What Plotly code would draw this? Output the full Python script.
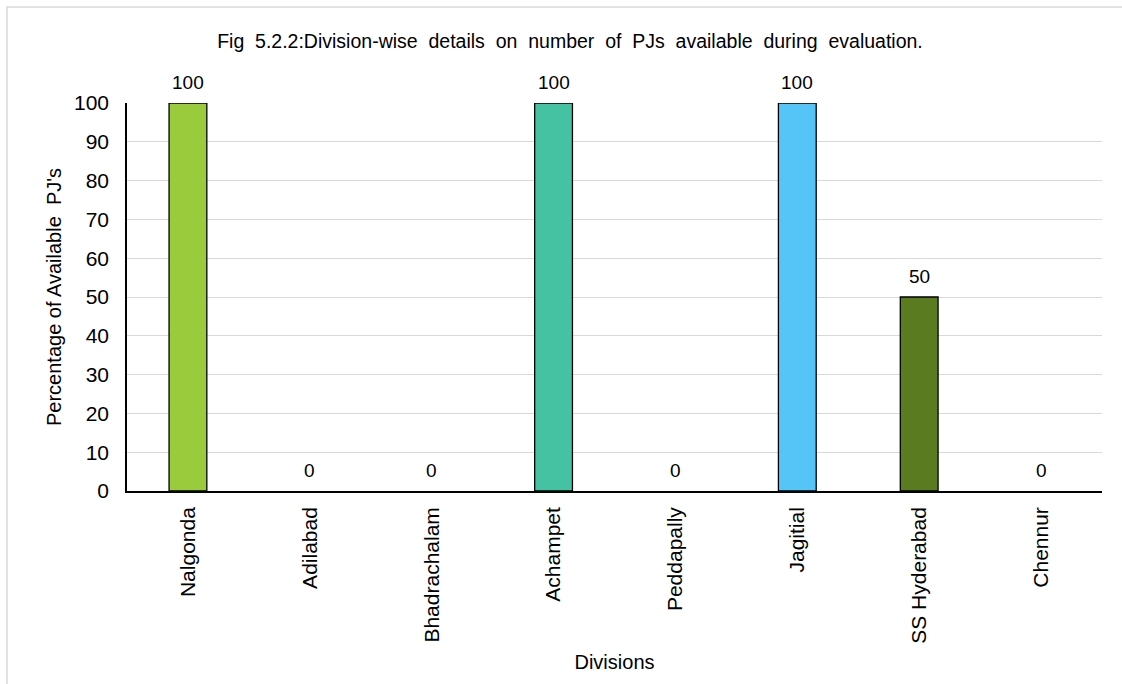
import plotly.graph_objects as go

# Division-wise percentage of PJs available during evaluation
divisions = ["Nalgonda", "Adilabad", "Bhadrachalam", "Achampet",
             "Peddapally", "Jagitial", "SS Hyderabad", "Chennur"]
pct_available = [100, 0, 0, 100, 0, 100, 50, 0]
bar_colors = ["#9ACB3C", "#9ACB3C", "#9ACB3C", "#45C2A2",
              "#45C2A2", "#55C5F8", "#5B7B21", "#5B7B21"]

title_text = "Fig 5.2.2:Division-wise details on number of PJs available during evaluation."

W, H = 1122, 684
ML, MR, MT, MB = 127, 20, 103, 193
pw, ph = W - ML - MR, H - MT - MB

font = "Liberation Sans, Arial, sans-serif"

# empty bars get no outline
outline_w = [1.3 if v > 0 else 0 for v in pct_available]

fig = go.Figure(go.Bar(
    x=divisions, y=pct_available,
    marker=dict(color=bar_colors, line=dict(color="#000000", width=outline_w)),
    width=0.31,
))

for d, v in zip(divisions, pct_available):
    fig.add_annotation(x=d, y=v, text=str(v), showarrow=False,
                       yanchor="bottom", yshift=8,
                       font=dict(size=19, color="#000000", family=font))

# outer frame
def px_x(p):
    return (p - ML) / pw

def px_y(p):
    return (H - MB - p) / ph

fig.add_shape(type="rect", xref="paper", yref="paper",
              x0=px_x(7), x1=px_x(W + 40), y0=px_y(H + 40), y1=px_y(7),
              line=dict(color="#D9D9D9", width=1.5), layer="below")

# widen the word gaps of the caption
spaced_title = title_text.replace(" ", " \u00a0")

fig.update_layout(
    width=W, height=H,
    margin=dict(l=ML, r=MR, t=MT, b=MB),
    plot_bgcolor="white", paper_bgcolor="white",
    showlegend=False,
    font=dict(family=font, size=18, color="#000000"),
    title=dict(text=spaced_title,
               x=0.508, xanchor="center", y=1 - 41 / H, yanchor="middle",
               font=dict(size=19.5, family=font, color="#000000")),
    xaxis=dict(
        tickangle=-90, showline=True, linecolor="#000000", linewidth=1.5,
        ticks="", showgrid=False, ticklabelstandoff=6,
        tickfont=dict(size=21, family=font),
        title=dict(text="Divisions", font=dict(size=20, family=font), standoff=12),
    ),
    yaxis=dict(
        range=[0, 100], dtick=10, showline=True, linecolor="#000000", linewidth=1.5,
        showgrid=True, gridcolor="#D9D9D9", gridwidth=1.3,
        ticks="", tickfont=dict(size=21, family=font), zeroline=False,
        ticklabelstandoff=12,
        title=dict(text="Percentage of Available  PJ's", font=dict(size=20, family=font), standoff=7),
    ),
)

fig.write_html("out.html")
